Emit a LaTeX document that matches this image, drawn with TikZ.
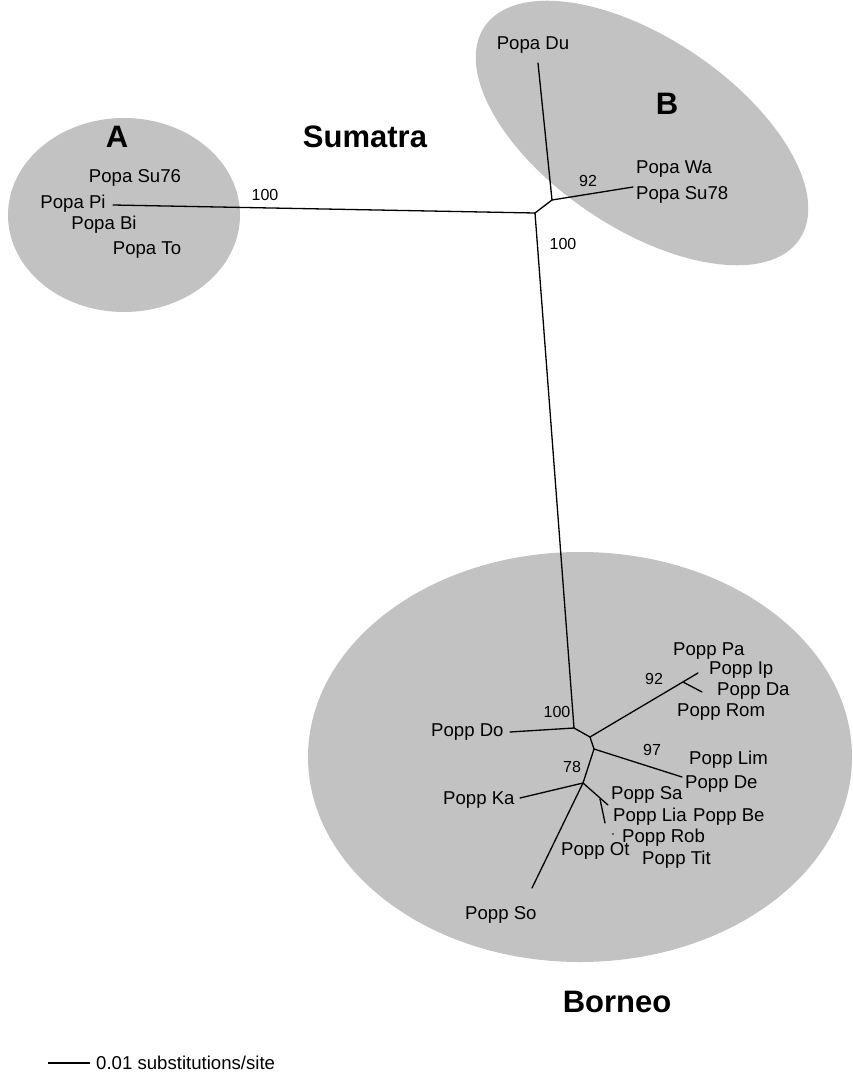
\documentclass[tikz,border=0pt]{standalone}
\usepackage{fontspec}
\setmainfont{Liberation Sans}
\usetikzlibrary{positioning}
\definecolor{blob}{RGB}{194,194,194}

\begin{document}
\begin{tikzpicture}[x=1pt,y=-1pt,
  lbl/.style={font=\fontsize{18.6}{22}\selectfont,inner sep=0pt,anchor=mid west},
  bs/.style={font=\fontsize{16}{19}\selectfont,inner sep=0pt,anchor=mid},
  big/.style={font=\fontsize{31}{36}\selectfont\bfseries,inner sep=0pt,anchor=mid},
  br/.style={line width=1.3pt,line cap=round}]
  \useasboundingbox (0,0) rectangle (853,1073);
  % clades
  \coordinate (ca) at (124,215);
  \coordinate (cb) at (642,133);
  \coordinate (cbo) at (580,757);
  \fill[blob] (ca) ellipse [x radius=116,y radius=97];
  \fill[blob,rotate around={-34:(cb)}] (cb) ellipse [x radius=190,y radius=95];
  \fill[blob] (cbo) ellipse [x radius=272,y radius=205];
  % tree, Sumatra part
  \coordinate (x1) at (535,213);
  \coordinate (x2) at (552,200);
  \coordinate (pi) at (113,205);
  \coordinate (du) at (538,63);
  \coordinate (wa) at (633,187);
  \draw[br](pi)--(x1);\draw[br](x1)--(x2);\draw[br](x2)--(du);\draw[br](x2)--(wa);
  % tree, Borneo part
  \coordinate (j1) at (574,728);
  \coordinate (j2) at (590,737);
  \coordinate (j3) at (594,749);
  \coordinate (j4) at (583,783);
  \coordinate (j5) at (600,799);
  \coordinate (j6) at (683,682);
  \coordinate (do) at (510,732);
  \coordinate (pa) at (698,673);
  \coordinate (da) at (702,692);
  \coordinate (de) at (682,777);
  \coordinate (ka) at (520,798);
  \coordinate (so) at (532,888);
  \coordinate (sa) at (608,805);
  \coordinate (lia) at (605,823);
  \draw[br](x1)--(j1);\draw[br](j1)--(do);\draw[br](j1)--(j2);
  \draw[br](j2)--(pa);\draw[br](j6)--(da);\draw[br](j2)--(j3);
  \draw[br](j3)--(de);\draw[br](j3)--(j4);\draw[br](j4)--(ka);
  \draw[br](j4)--(so);\draw[br](j4)--(sa);\draw[br](j5)--(lia);
  \fill (613,834) circle (0.8);
  % labels A
  \node[big](la) at (117,145){A};
  \node[lbl,anchor=mid](su76) at (135,180){Popa Su76};
  \node[lbl,anchor=mid](lpi) at (73,206){Popa Pi};
  \node[lbl,anchor=mid](bi) at (104,227){Popa Bi};
  \node[lbl,anchor=mid](to) at (147,252){Popa To};
  \node[bs](bsa) at (265,198){100};
  \node[big](sum) at (365,145){Sumatra};
  % labels B
  \node[big](lb) at (667,112){B};
  \node[lbl,anchor=mid](ldu) at (533,47){Popa Du};
  \node[lbl](lwa) at (636,171){Popa Wa};
  \node[lbl](su78) at (636,197){Popa Su78};
  \node[bs](bsb) at (588,184){92};
  \node[bs](bsr) at (563,247){100};
  % labels Borneo
  \node[bs](bs1) at (557,715){100};
  \node[bs](bs2) at (654,682){92};
  \node[bs](bs3) at (652,753){97};
  \node[bs](bs4) at (572,770){78};
  \node[lbl](ldo) at (431,734){Popp Do};
  \node[lbl](lpa) at (673,653){Popp Pa};
  \node[lbl](lip) at (709,672){Popp Ip};
  \node[lbl](lda) at (717,693){Popp Da};
  \node[lbl](lrom) at (677,714){Popp Rom};
  \node[lbl](llim) at (689,762){Popp Lim};
  \node[lbl](lde) at (685,786){Popp De};
  \node[lbl](lsa) at (611,797){Popp Sa};
  \node[lbl](llia) at (613,819){Popp Lia};
  \node[lbl](lbe) at (693,819){Popp Be};
  \node[lbl](lrob) at (622,840){Popp Rob};
  \node[lbl](lot) at (561,853){Popp Ot};
  \node[lbl](ltit) at (642,862){Popp Tit};
  \node[lbl](lka) at (443,802){Popp Ka};
  \node[lbl](lso) at (465,917){Popp So};
  \node[big](bor) at (617,1010){Borneo};
  % scale
  \coordinate (s1) at (48,1063);
  \coordinate (s2) at (90,1063);
  \draw[line width=1.3pt](s1)--(s2);
  \node[lbl,right=6pt of s2](sc){0.01 substitutions/site};
\end{tikzpicture}
\end{document}
